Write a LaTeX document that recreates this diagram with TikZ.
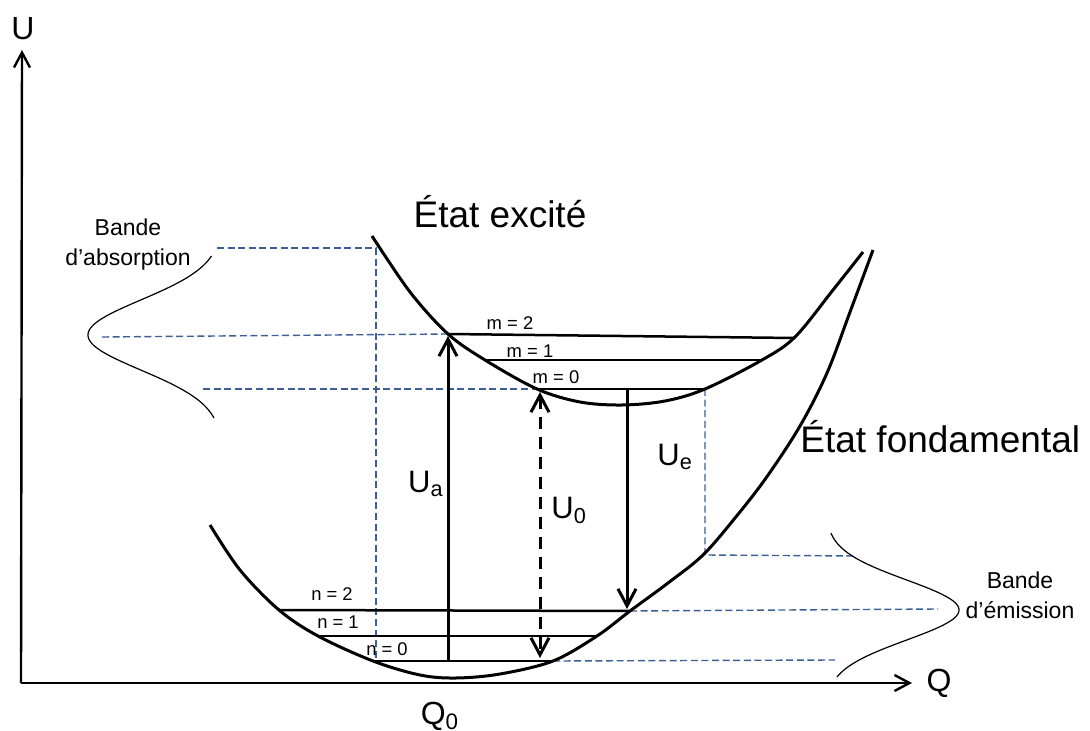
\documentclass[tikz,border=0pt]{standalone}
\usepackage{fontspec}
\setmainfont{Liberation Sans}
\usetikzlibrary{arrows.meta}
\definecolor{guidec}{RGB}{60,95,150}
\begin{document}
\begin{tikzpicture}[x=0.5pt,y=-0.5pt,
  curve/.style={line width=1.5pt},
  levelline/.style={line width=1.25pt},
  guide/.style={draw=guidec, line width=0.7pt, dash pattern=on 3.5pt off 1.8pt},
  band/.style={line width=0.6pt},
  axis/.style={line width=1.2pt,-{Straight Barb[length=7.5pt,width=8pt]}},
  trans/.style={line width=1.5pt,-{Straight Barb[length=8.5pt,width=9pt]}},
  lvl/.style={font=\fontsize{9.2}{11}\selectfont, inner sep=0pt},
  big/.style={font=\fontsize{18.5}{22}\selectfont, inner sep=0pt},
  bandtxt/.style={font=\fontsize{11.5}{15}\selectfont, inner sep=0pt, align=center},
  ulab/.style={font=\fontsize{15.5}{18}\selectfont, inner sep=0pt},
  axlab/.style={font=\fontsize{16}{19}\selectfont, inner sep=0pt}]
\useasboundingbox (0,0) rectangle (1090,731);

% guide (dashed) lines
\coordinate (A1) at (217,248);
\coordinate (A2) at (376,248);
\coordinate (A3) at (376,661);
\coordinate (B1) at (102,337);
\coordinate (C1) at (203,389);
\coordinate (E1) at (705,555);
\coordinate (E2) at (857,556);
\coordinate (F2) at (938,609);
\coordinate (G2) at (835,660);

% level endpoints
\coordinate (m2l) at (448,334); \coordinate (m2r) at (795,338);
\coordinate (m1l) at (485,360); \coordinate (m1r) at (762,360);
\coordinate (m0l) at (537,389); \coordinate (m0r) at (705,389);
\coordinate (n2l) at (279,610); \coordinate (n2r) at (630,611);
\coordinate (n1l) at (318,636); \coordinate (n1r) at (597,636);
\coordinate (n0l) at (373,661); \coordinate (n0r) at (553,661);

\draw[guide] (A1) -- (A2) -- (A3);
\draw[guide] (B1) -- (m2l);
\draw[guide] (C1) -- (m0l);
\draw[guide] (m0r) -- (E1) -- (E2);
\draw[guide] (n2r) -- (F2);
\draw[guide] (n0r) -- (G2);

% axes
\coordinate (O) at (21,683);
\coordinate (Utop) at (22,50);
\coordinate (Qend) at (912,683);
\draw[axis] (O) -- (Utop);
\draw[axis] (O) -- (Qend);
\node[axlab] (U) at (23,29) {U};
\node[axlab] (Q) at (939,683) {Q};
\node[axlab] (Q0) at (440,716) {Q\textsubscript{0}};

% potential curves
\draw[curve] plot[smooth, tension=0.55] coordinates {(210,525) (240,570) (279,610) (318,636) (373,661) (420,675) (456,678) (500,674) (553,661) (597,636) (630,611) (668,583) (703,555) (735,518) (766,478) (800,426) (827,373) (850,312) (873,250)};
\draw[curve] plot[smooth, tension=0.55] coordinates {(372,236) (410,292) (448,334) (485,360) (537,389) (580,402) (622,405) (665,401) (705,389) (762,360) (795,337) (833,290) (863,252)};

% vibrational levels
\draw[levelline] (m2l) -- (m2r);
\draw[levelline] (m1l) -- (m1r);
\draw[levelline] (m0l) -- (m0r);
\draw[levelline] (n2l) -- (n2r);
\draw[levelline] (n1l) -- (n1r);
\draw[levelline] (n0l) -- (n0r);

\node[lvl] (lm2) at (510,323) {m = 2};
\node[lvl] (lm1) at (530,351) {m = 1};
\node[lvl] (lm0) at (556,377) {m = 0};
\node[lvl] (ln2) at (332,594) {n = 2};
\node[lvl] (ln1) at (338,622) {n = 1};
\node[lvl] (ln0) at (387,649) {n = 0};

% transitions
\coordinate (Ua0) at (448,661);
\coordinate (Ua1) at (448,336);
\coordinate (U00) at (540,392);
\coordinate (U01) at (540,658);
\coordinate (Ue0) at (627,389);
\coordinate (Ue1) at (627,609);
\draw[trans] (Ua0) -- (Ua1);
\draw[trans, {Straight Barb[length=8.5pt,width=9pt]}-{Straight Barb[length=8.5pt,width=9pt]}, dash pattern=on 6pt off 4pt] (U00) -- (U01);
\draw[trans] (Ue0) -- (Ue1);

\node[ulab, anchor=base east] (LUa) at (444,492) {U\textsubscript{a}};
\node[ulab, anchor=base west] (LU0) at (551,518) {U\textsubscript{0}};
\node[ulab, anchor=base west] (LUe) at (657,465) {U\textsubscript{e}};

% bands
\draw[band] plot[domain=-79:83, samples=90, variable=\t] ({222-134*exp(-(\t*\t)/2450)}, {335+\t});
\draw[band] plot[domain=-77:67, samples=90, variable=\t] ({826+133*exp(-(\t*\t)/1800)}, {610+\t});

\node[bandtxt] (abs) at (128,245) {Bande\\d’absorption};
\node[bandtxt] (emi) at (1020,595) {Bande\\d’émission};

% state names
\node[big, anchor=base] (exc) at (500,228) {État excité};
\node[big, anchor=base west] (fond) at (800,452) {État fondamental};
\end{tikzpicture}
\end{document}
